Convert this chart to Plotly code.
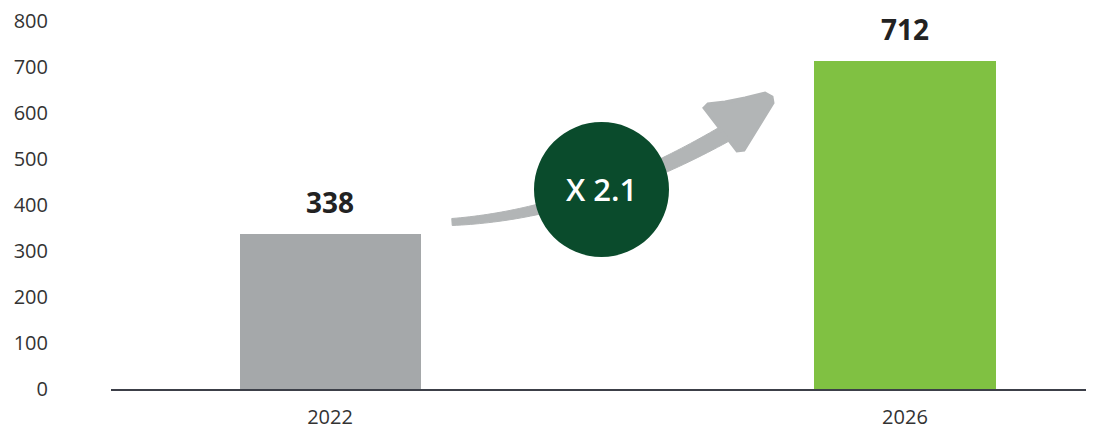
import numpy as np
import plotly.graph_objects as go

categories = ["2022", "2026"]
values = [338, 712]
bar_colors = ["#a5a8aa", "#80c142"]
value_labels = ["338", "712"]
multiplier_label = "X 2.1"
y_ticks = [0, 100, 200, 300, 400, 500, 600, 700, 800]

OFF = 8  # default page body margin
W, H = 1094 - OFF, 428 - OFF
ML, MR, MT, MB = 111 - OFF, 1, 21 - OFF, 39
PW, PH = W - ML - MR, H - MT - MB


def px2paper(px, py):
    # px, py are page pixels of the target picture
    px -= OFF
    py -= OFF
    return (px - ML) / PW, (H - MB - py) / PH


fig = go.Figure()
fig.add_trace(go.Bar(
    x=categories, y=values, marker=dict(color=bar_colors, line=dict(width=0)),
    width=0.315, hoverinfo="skip", showlegend=False,
))

for i, (v, t) in enumerate(zip(values, value_labels)):
    fig.add_annotation(x=i, y=v, text=f"<b>{t}</b>", showarrow=False,
                       yanchor="bottom", yshift=11,
                       font=dict(family="Open Sans", size=28, color="#222222"))

# curved growth arrow (decorative)
arrow_color = "#b2b5b6"
p0 = np.array([452.0, 222.0]); p1 = np.array([585.0, 214.0]); p2 = np.array([728.0, 132.0])
t = np.linspace(0, 1, 60)
pts = ((1 - t) ** 2)[:, None] * p0 + (2 * (1 - t) * t)[:, None] * p1 + (t ** 2)[:, None] * p2
d = np.gradient(pts, axis=0)
n = np.stack([-d[:, 1], d[:, 0]], axis=1)
n /= np.linalg.norm(n, axis=1)[:, None]
half = (3.5 + 5.0 * t)[:, None]
upper = pts + n * half
lower = pts - n * half
poly = np.vstack([upper, lower[::-1]])
path = ""
for i, (px, py) in enumerate(poly):
    x, y = px2paper(px, py)
    path += ("M" if i == 0 else "L") + f"{x:.5f},{y:.5f} "
path += "Z"
fig.add_shape(type="path", path=path, xref="paper", yref="paper",
              fillcolor=arrow_color, line=dict(color=arrow_color, width=1), layer="above")

head = [(704, 108), (708, 104), (725, 102), (745, 98), (765, 93), (772, 97), (773, 103),
        (744, 150), (737, 151)]
hp = ""
for i, (px, py) in enumerate(head):
    x, y = px2paper(px, py)
    hp += ("M" if i == 0 else "L") + f"{x:.5f},{y:.5f} "
hp += "Z"
fig.add_shape(type="path", path=hp, xref="paper", yref="paper",
              fillcolor=arrow_color, line=dict(color=arrow_color, width=3), layer="above")

# circle badge
cx, cy, r = 601.5, 189.5, 67.5
x0, y0 = px2paper(cx - r, cy + r)
x1, y1 = px2paper(cx + r, cy - r)
fig.add_shape(type="circle", xref="paper", yref="paper", x0=x0, y0=y0, x1=x1, y1=y1,
              fillcolor="#0a4b2c", line=dict(width=0), layer="above")
xc, yc = px2paper(cx, cy)
fig.add_annotation(x=xc, y=yc, xref="paper", yref="paper", text=multiplier_label,
                   showarrow=False,
                   font=dict(family="Open Sans", size=31, color="#ffffff", weight=600))

fig.update_layout(
    width=W, height=H, margin=dict(l=ML, r=MR, t=MT, b=MB, pad=0, autoexpand=False),
    paper_bgcolor="white", plot_bgcolor="white", bargap=0,
    font=dict(family="Open Sans", size=20, color="#333333"),
    xaxis=dict(type="category", range=[-0.381, 1.327], showline=True, linecolor="#3c3f48",
               linewidth=2, showgrid=False, ticks="", ticklabelstandoff=9,
               automargin=False, ticklabeloverflow="allow",
               tickfont=dict(size=20, color="#333333")),
    yaxis=dict(range=[0, 800], tickvals=y_ticks, showgrid=False, zeroline=False,
               showline=False, ticks="", ticklabelstandoff=62, ticklabeloverflow="allow",
               automargin=False, tickfont=dict(size=20, color="#333333")),
)

fig.write_html("out.html")
